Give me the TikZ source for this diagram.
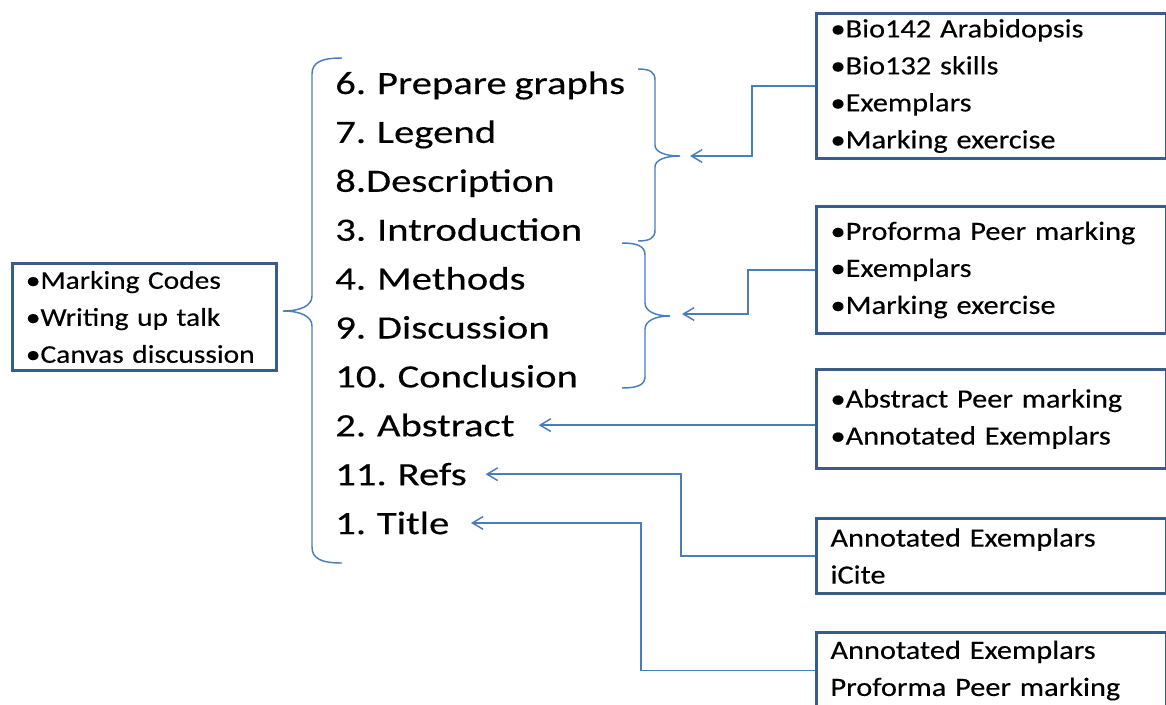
\documentclass[tikz,border=0pt]{standalone}
\usepackage{fontspec}
\setmainfont{Carlito}[FakeStretch=1.25, FakeBold=0.3, WordSpace=0.85]
\newfontfamily\boxfont{Carlito}[FakeStretch=1.15, FakeBold=0.3, WordSpace=0.85]
\usetikzlibrary{arrows.meta}
\definecolor{boxblue}{HTML}{385D8A}
\definecolor{lineblue}{HTML}{4A7EBB}

\begin{document}
\begin{tikzpicture}[x=0.75pt,y=-0.75pt]
        \tikzstyle{listitem}=[anchor=base west, inner sep=0pt, font=\fontsize{24.4pt}{30pt}\selectfont]
        \tikzstyle{infobox}=[draw=boxblue, line width=2.25pt, anchor=north west, align=left, inner xsep=10.5pt, inner ysep=0pt, text width=241.5pt, font=\boxfont\fontsize{19.8pt}{27.75pt}\selectfont]
        \tikzstyle{link}=[draw=lineblue, line width=1.1pt, -{Straight Barb[length=8pt,width=9.5pt]}]
        \tikzstyle{curly}=[draw=lineblue, line width=1.1pt]
        \useasboundingbox (0,0) rectangle (1166,704);
        % sections of the report
        \foreach \txt [count=\i] in {6. Prepare graphs, 7. Legend, 8.Description, 3. Introduction, 4. Methods, 9. Discussion, 10. Conclusion, 2. Abstract, 11. Refs, 1. Title}
            \node[listitem] (s\i) at (335,{94+(\i-1)*48.9}) {\txt};
        % boxes
        \node[infobox, text width=178pt, inner xsep=10pt, minimum height=80.25pt, font=\boxfont\fontsize{19.2pt}{27.75pt}\selectfont] (general) at (11,262) {•Marking Codes\\•Writing up talk\\•Canvas discussion};
        \node[infobox, minimum height=108.75pt] (b1) at (815,12) {•Bio142 Arabidopsis\\•Bio132 skills\\•Exemplars\\•Marking exercise};
        \node[infobox, minimum height=95.25pt] (b2) at (815,205) {•Proforma Peer marking\\•Exemplars\\•Marking exercise};
        \node[infobox, minimum height=74.25pt] (b3) at (815,368) {•Abstract Peer marking\\•Annotated Exemplars};
        \node[infobox, minimum height=56.25pt] (b4) at (815,517) {Annotated Exemplars\\iCite};
        \node[infobox, minimum height=57pt] (b5) at (815,631) {Annotated Exemplars\\Proforma Peer marking};
        % braces
        \draw[curly] (342,58) .. controls (322,58) and (312,62) .. (312,74) -- (312,296) .. controls (312,306) and (300,311) .. (283,311) .. controls (300,311) and (312,316) .. (312,326) -- (312,547) .. controls (312,559) and (322,563) .. (342,563);
        \draw[curly] (638,69) .. controls (650,69) and (655,72) .. (655,80) -- (655,145) .. controls (655,152) and (665,156) .. (680,156) .. controls (665,156) and (655,160) .. (655,167) -- (655,230) .. controls (655,238) and (650,241) .. (638,241);
        \draw[curly] (622,243) .. controls (637,243) and (645,246) .. (645,255) -- (645,303) .. controls (645,311) and (655,316) .. (670,316) .. controls (655,316) and (645,321) .. (645,329) -- (645,377) .. controls (645,385) and (637,388) .. (622,388);
        \coordinate (a1) at (690,156);
        \coordinate (a2) at (682,314);
        % arrows
        \draw[link] (b1.west) -- ++(-63,0) |- (a1);
        \draw[link] (b2.west) -- ++(-67,0) |- (a2);
        \draw[link] (b3.west |- s8) -- ([xshift=18pt]s8.east);
        \draw[link] (b4.west) -- ++(-134,0) |- ([xshift=14pt]s9.east);
        \draw[link] (b5.west) -- ++(-174,0) |- ([xshift=16pt]s10.east);
\end{tikzpicture}
\end{document}
